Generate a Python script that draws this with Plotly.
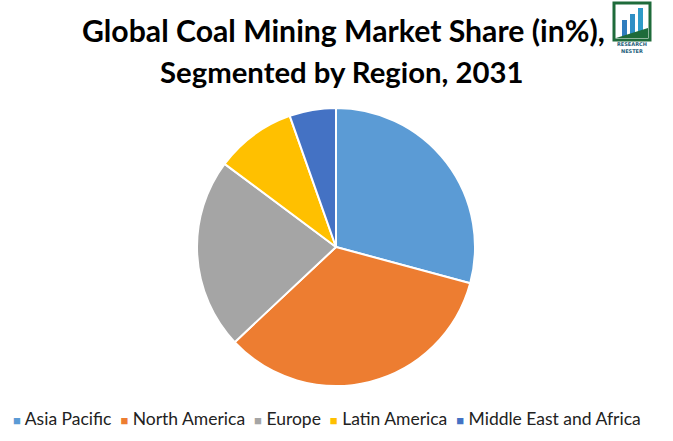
import plotly.graph_objects as go

regions = ["Asia Pacific", "North America", "Europe", "Latin America", "Middle East and Africa"]
shares = [29.2, 33.8, 22.2, 9.4, 5.4]
colors = ["#5B9BD5", "#ED7D31", "#A5A5A5", "#FFC000", "#4472C4"]

W, H = 673, 441
cx, cy, r = 336, 247, 139

fig = go.Figure(go.Pie(
    labels=regions, values=shares, sort=False, direction="clockwise", rotation=0,
    marker=dict(colors=colors, line=dict(color="white", width=2)),
    textinfo="none", hoverinfo="label+percent", showlegend=False,
    domain=dict(x=[(cx - r) / W, (cx + r) / W], y=[(H - cy - r) / H, (H - cy + r) / H]),
))

shapes = [
    dict(type="rect", xref="paper", yref="paper", x0=614/W, x1=650/W, y0=1-40/H, y1=1-3/H,
         line=dict(color="#1E6B3A", width=3), fillcolor="white"),
]
bars = [(622, 20, "#2F7DBE"), (630, 14, "#2F8FC5"), (638, 8, "#2E9BC8")]
for x0, top, c in bars:
    shapes.append(dict(type="rect", xref="paper", yref="paper", x0=x0/W, x1=(x0+5)/W,
                       y0=1-38/H, y1=1-top/H, line=dict(width=0), fillcolor=c))
shapes.append(dict(type="path", xref="paper", yref="paper",
                   path=f"M {616/W},{1-38/H} L {648/W},{1-38/H} L {648/W},{1-28/H} Z",
                   fillcolor="#1E6B3A", line=dict(width=0)))

legend_text = "  ".join(
    f'<span style="color:{c}; font-size:13px">■</span> {name}' for name, c in zip(regions, colors)
)

fig.update_layout(
    width=W, height=H, margin=dict(l=0, r=0, t=0, b=0),
    paper_bgcolor="white", plot_bgcolor="white",
    shapes=shapes,
    annotations=[
        dict(text="<b>Global Coal Mining Market Share (in%),</b>",
             x=343/W, y=1-30/H, xref="paper", yref="paper", xanchor="center", yanchor="middle",
             showarrow=False, font=dict(family="Lato, Open Sans, sans-serif", size=30.2, color="black")),
        dict(text="<b>Segmented by Region, 2031</b>",
             x=342/W, y=1-71/H, xref="paper", yref="paper", xanchor="center", yanchor="middle",
             showarrow=False, font=dict(family="Lato, Open Sans, sans-serif", size=29.3, color="black")),
        dict(text="<b>RESEARCH</b>", x=632/W, y=1-44/H, xref="paper", yref="paper",
             xanchor="center", yanchor="middle", showarrow=False,
             font=dict(family="DejaVu Sans", size=5, color="#1E5E7A")),
        dict(text="<b>NESTER</b>", x=632/W, y=1-51/H, xref="paper", yref="paper",
             xanchor="center", yanchor="middle", showarrow=False,
             font=dict(family="DejaVu Sans", size=5, color="#1E5E7A")),
        dict(text=legend_text, x=327/W, y=1-418/H, xref="paper", yref="paper",
             xanchor="center", yanchor="middle", showarrow=False,
             font=dict(family="Lato, Open Sans, sans-serif", size=17.5, color="#222")),
    ],
)

fig.write_html("out.html")
